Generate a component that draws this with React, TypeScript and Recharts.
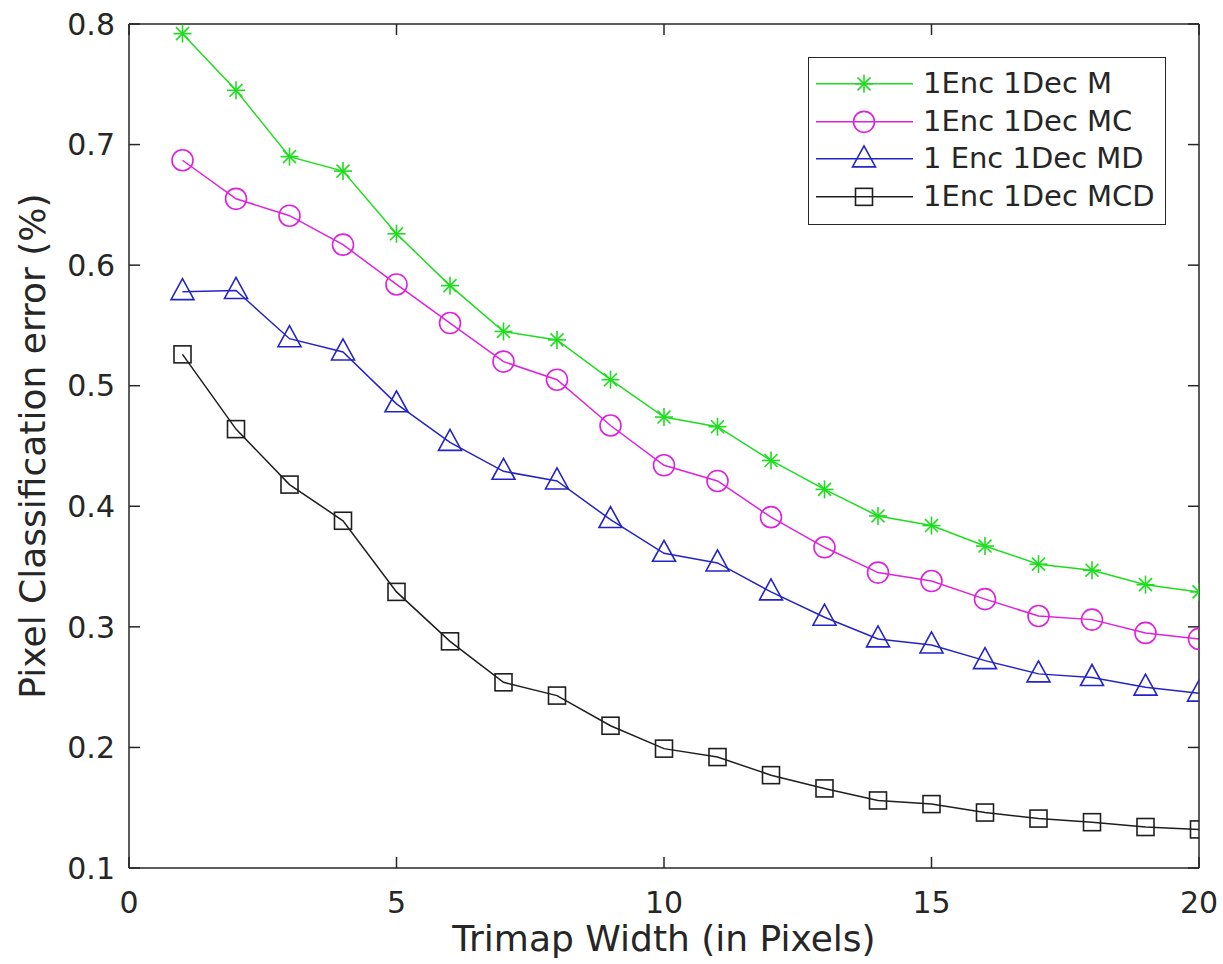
import React from 'react';
import { LineChart, Line, XAxis, YAxis, Legend } from 'recharts';

const trimapWidths = [1, 2, 3, 4, 5, 6, 7, 8, 9, 10, 11, 12, 13, 14, 15, 16, 17, 18, 19, 20];
const errM = [0.792, 0.745, 0.690, 0.678, 0.626, 0.583, 0.545, 0.538, 0.505, 0.474, 0.466, 0.438, 0.414, 0.392, 0.384, 0.367, 0.352, 0.347, 0.335, 0.329];
const errMC = [0.687, 0.655, 0.641, 0.617, 0.584, 0.552, 0.520, 0.505, 0.467, 0.434, 0.421, 0.391, 0.366, 0.345, 0.338, 0.323, 0.309, 0.306, 0.295, 0.290];
const errMD = [0.578, 0.579, 0.539, 0.528, 0.485, 0.453, 0.429, 0.421, 0.389, 0.361, 0.353, 0.329, 0.308, 0.290, 0.285, 0.272, 0.261, 0.258, 0.250, 0.245];
const errMCD = [0.526, 0.464, 0.418, 0.388, 0.329, 0.288, 0.254, 0.243, 0.218, 0.199, 0.192, 0.177, 0.166, 0.156, 0.153, 0.146, 0.141, 0.138, 0.134, 0.132];
const seriesNames = ['1Enc 1Dec M', '1Enc 1Dec MC', '1 Enc 1Dec MD', '1Enc 1Dec MCD'];
const xTicks = [0, 5, 10, 15, 20];
const yTicks = [0.1, 0.2, 0.3, 0.4, 0.5, 0.6, 0.7, 0.8];
const xLabel = 'Trimap Width (in Pixels)';
const yLabel = 'Pixel Classification error (%)';

const data = trimapWidths.map((w, i) => ({ w, m: errM[i], mc: errMC[i], md: errMD[i], mcd: errMCD[i] }));

const FONT = '"DejaVu Sans", sans-serif';
const AX = '#262626';

type MK = 'star' | 'circle' | 'tri' | 'square';
const series: { key: string; name: string; color: string; marker: MK }[] = [
  { key: 'm', name: seriesNames[0], color: '#1edc1e', marker: 'star' },
  { key: 'mc', name: seriesNames[1], color: '#dc22dc', marker: 'circle' },
  { key: 'md', name: seriesNames[2], color: '#2424c4', marker: 'tri' },
  { key: 'mcd', name: seriesNames[3], color: '#1e1e1e', marker: 'square' },
];

function Marker({ cx, cy, color, kind }: { cx: number; cy: number; color: string; kind: MK }) {
  if (cx == null || cy == null) return <g />;
  const sw = 1.6;
  if (kind === 'star') {
    const r = 9;
    const d = r * 0.72;
    return (
      <g stroke={color} strokeWidth={sw} fill="none">
        <line x1={cx - r} y1={cy} x2={cx + r} y2={cy} />
        <line x1={cx} y1={cy - r} x2={cx} y2={cy + r} />
        <line x1={cx - d} y1={cy - d} x2={cx + d} y2={cy + d} />
        <line x1={cx - d} y1={cy + d} x2={cx + d} y2={cy - d} />
      </g>
    );
  }
  if (kind === 'circle') {
    return <circle cx={cx} cy={cy} r={10.5} stroke={color} strokeWidth={sw} fill="none" />;
  }
  if (kind === 'tri') {
    return (
      <polygon
        points={`${cx},${cy - 13} ${cx - 11.5},${cy + 8} ${cx + 11.5},${cy + 8}`}
        stroke={color}
        strokeWidth={sw}
        fill="none"
      />
    );
  }
  return <rect x={cx - 8.5} y={cy - 8.5} width={17} height={17} stroke={color} strokeWidth={sw} fill="none" />;
}

function LegendBox() {
  return (
    <div
      style={{
        width: 356,
        height: 159,
        border: '1px solid #262626',
        background: '#fff',
        paddingTop: 7,
        boxSizing: 'content-box',
        fontFamily: FONT,
      }}
    >
      {series.map((s) => (
        <div key={s.key} style={{ display: 'flex', alignItems: 'center', height: 37.7 }}>
          <svg width={104} height={37.7} style={{ display: 'block' }}>
            <line x1={7} y1={18.85} x2={104} y2={18.85} stroke={s.color} strokeWidth={1.5} />
            <Marker cx={55} cy={18.85} color={s.color} kind={s.marker} />
          </svg>
          <span style={{ marginLeft: 10, fontSize: 29, color: AX, lineHeight: '37.7px', whiteSpace: 'nowrap' }}>
            {s.name}
          </span>
        </div>
      ))}
    </div>
  );
}

function XLabelContent(props: any) {
  const vb = props.viewBox || {};
  const cx = vb.x + vb.width / 2;
  return (
    <text x={cx} y={vb.y + 70} textAnchor="middle" dominantBaseline="central" fontSize={36} fill={AX} fontFamily={FONT}>
      {xLabel}
    </text>
  );
}

function YLabelContent(props: any) {
  const vb = props.viewBox || {};
  const cx = vb.x + 32;
  const cy = vb.y + vb.height / 2;
  return (
    <text
      x={cx}
      y={cy}
      transform={`rotate(-90, ${cx}, ${cy})`}
      textAnchor="middle"
      dominantBaseline="central"
      fontSize={36}
      fill={AX}
      fontFamily={FONT}
    >
      {yLabel}
    </text>
  );
}

const emptyTick = () => <g />;

export default function App() {
  return (
    <div style={{ position: 'absolute', left: 0, top: 0, background: '#fff' }}>
      <LineChart width={1223} height={964} data={data} margin={{ top: 23, right: 23, left: 0, bottom: 0 }}>
        <XAxis
          dataKey="w"
          type="number"
          domain={[0, 20]}
          ticks={xTicks}
          allowDataOverflow
          height={96}
          stroke={AX}
          tickSize={-11}
          tickMargin={35}
          tick={{ fontSize: 30, fill: AX, fontFamily: FONT }}
          axisLine={{ stroke: AX, strokeWidth: 1.5 }}
          tickLine={{ stroke: AX, strokeWidth: 1.5 }}
          label={<XLabelContent />}
        />
        <XAxis
          xAxisId="top"
          orientation="top"
          dataKey="w"
          type="number"
          domain={[0, 20]}
          ticks={xTicks}
          allowDataOverflow
          height={1}
          tickSize={-11}
          tick={emptyTick}
          axisLine={{ stroke: AX, strokeWidth: 1.5 }}
          tickLine={{ stroke: AX, strokeWidth: 1.5 }}
        />
        <YAxis
          type="number"
          domain={[0.1, 0.8]}
          ticks={yTicks}
          allowDataOverflow
          width={129}
          tickSize={-11}
          tickMargin={25}
          tickFormatter={(v: number) => v.toFixed(1)}
          tick={{ fontSize: 30, fill: AX, fontFamily: FONT }}
          axisLine={{ stroke: AX, strokeWidth: 1.5 }}
          tickLine={{ stroke: AX, strokeWidth: 1.5 }}
          label={<YLabelContent />}
        />
        <YAxis
          yAxisId="right"
          orientation="right"
          type="number"
          domain={[0.1, 0.8]}
          ticks={yTicks}
          allowDataOverflow
          width={1}
          tickSize={-11}
          tick={emptyTick}
          axisLine={{ stroke: AX, strokeWidth: 1.5 }}
          tickLine={{ stroke: AX, strokeWidth: 1.5 }}
        />
        <Legend
          layout="horizontal"
          verticalAlign="middle"
          align="center"
          content={() => <LegendBox />}
          wrapperStyle={{ position: 'absolute', left: 808, top: 57, width: 'auto', height: 'auto' }}
        />
        {series.map((s) => (
          <Line
            key={s.key}
            dataKey={s.key}
            name={s.name}
            stroke={s.color}
            strokeWidth={1.5}
            isAnimationActive={false}
            activeDot={false}
            dot={(p: any) => <Marker key={`${s.key}-${p.index}`} cx={p.cx} cy={p.cy} color={s.color} kind={s.marker} />}
          />
        ))}
      </LineChart>
    </div>
  );
}
